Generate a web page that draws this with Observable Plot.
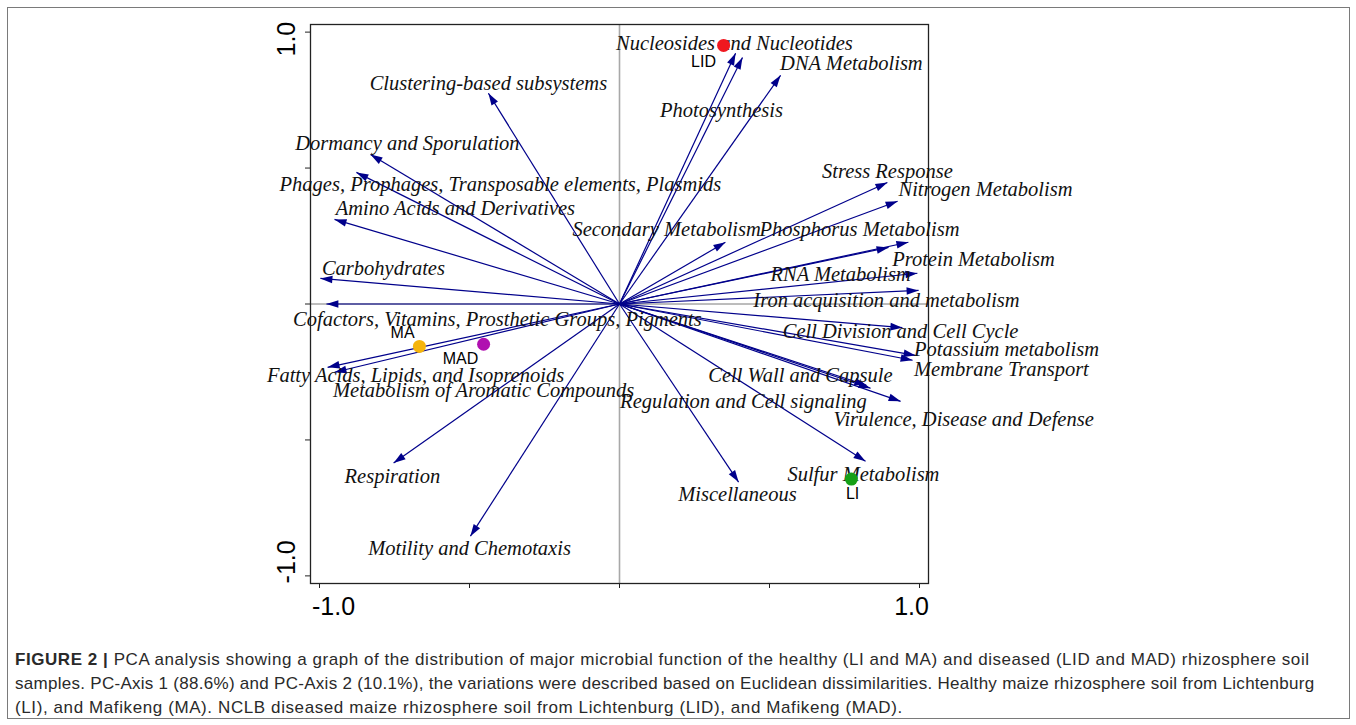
<!DOCTYPE html>
<html><head><meta charset="utf-8">
<script src="https://cdn.jsdelivr.net/npm/d3@7"></script>
<script src="https://cdn.jsdelivr.net/npm/@observablehq/plot@0.6"></script>
<style>
body{margin:0;background:#fff;width:1356px;height:725px;overflow:hidden;position:relative;font-family:"Liberation Sans",Arial,sans-serif}
#border{position:absolute;left:7px;top:7px;width:1341px;height:710px;border:1.5px solid #7a7a7a;}
#chart{position:absolute;left:0;top:0}
#caption{position:absolute;left:15px;top:648px;font-size:17px;line-height:24px;color:#2a2a2a;white-space:nowrap}
#caption span{display:block}
</style></head><body>
<div id="border"></div><div id="chart"></div>
<div id="caption"><span style="letter-spacing:0.55px"><b>FIGURE 2 |</b> PCA analysis showing a graph of the distribution of major microbial function of the healthy (LI and MA) and diseased (LID and MAD) rhizosphere soil</span><span style="letter-spacing:0.28px">samples. PC-Axis 1 (88.6%) and PC-Axis 2 (10.1%), the variations were described based on Euclidean dissimilarities. Healthy maize rhizosphere soil from Lichtenburg</span><span style="letter-spacing:0.6px">(LI), and Mafikeng (MA). NCLB diseased maize rhizosphere soil from Lichtenburg (LID), and Mafikeng (MAD).</span></div>
<script>
// Functional categories (arrows)
const functions = [
  "Nucleosides and Nucleotides", "Photosynthesis", "DNA Metabolism", "Clustering-based subsystems",
  "Dormancy and Sporulation", "Phages, Prophages, Transposable elements, Plasmids", "Amino Acids and Derivatives",
  "Carbohydrates", "Cofactors, Vitamins, Prosthetic Groups, Pigments", "Fatty Acids, Lipids, and Isoprenoids",
  "Metabolism of Aromatic Compounds", "Respiration", "Motility and Chemotaxis", "Miscellaneous",
  "Sulfur Metabolism", "Virulence, Disease and Defense", "Regulation and Cell signaling", "Cell Wall and Capsule",
  "Membrane Transport", "Potassium metabolism", "Cell Division and Cell Cycle", "Iron acquisition and metabolism",
  "Protein Metabolism", "RNA Metabolism", "Phosphorus Metabolism", "Secondary Metabolism",
  "Stress Response", "Nitrogen Metabolism"
];
// Arrow tips (PC-Axis 1, PC-Axis 2)
const pc1 = [0.387, 0.41, 0.537, -0.437, -0.83, -0.877, -0.95, -0.997, -0.977, -0.973, -0.95, -0.753, -0.497, 0.397,
  0.82, 0.937, 0.823, 0.837, 0.977, 0.987, 0.943, 0.997, 0.993, 0.897, 0.963, 0.353, 0.893, 0.927];
const pc2 = [0.922, 0.907, 0.841, 0.775, 0.55, 0.484, 0.311, 0.094, 0.0, -0.233, -0.251, -0.585, -0.854, -0.655,
  -0.578, -0.358, -0.299, -0.31, -0.207, -0.189, -0.087, 0.05, 0.113, 0.208, 0.227, 0.227, 0.447, 0.378];
// Label anchor points (axis units)
const labelX = [0.383, 0.34, 0.773, -0.437, -0.707, -0.397, -0.547, -0.787, -0.407, -0.68, -0.453, -0.757, -0.5, 0.393,
  0.813, 1.147, 0.413, 0.603, 1.273, 1.29, 0.937, 0.89, 1.18, 0.737, 0.8, 0.157, 0.893, 1.22];
const labelY = [0.958, 0.712, 0.885, 0.811, 0.591, 0.44, 0.352, 0.131, -0.056, -0.262, -0.317, -0.633, -0.898, -0.7,
  -0.626, -0.424, -0.358, -0.262, -0.24, -0.166, -0.1, 0.014, 0.164, 0.109, 0.275, 0.275, 0.488, 0.422];

// Samples
const samples = ["LID", "MA", "MAD", "LI"];
const sampleX = [0.347, -0.667, -0.453, 0.773];
const sampleY = [0.951, -0.156, -0.148, -0.644];
const sampleLabelX = [0.28, -0.723, -0.53, 0.777];
const sampleLabelY = [0.892, -0.108, -0.2, -0.7];
const sampleColors = ["#f01820", "#f5b40c", "#b010b0", "#16a016"];

const xTicks = [-1, -0.5, 0, 0.5, 1];
const yTicks = [-1, -0.5, 0, 0.5, 1];

const arrowColor = "#00008B";
const fIdx = d3.range(functions.length);
const sIdx = d3.range(samples.length);

function filledArrow(color, context) {
  const m = d3.create("svg:marker")
    .attr("viewBox", "-12 -4 12 8")
    .attr("markerWidth", 12)
    .attr("markerHeight", 8)
    .attr("markerUnits", "userSpaceOnUse")
    .attr("orient", "auto")
    .attr("refX", 0).attr("refY", 0)
    .attr("overflow", "visible");
  m.append("path").attr("d", "M0,0L-12,-3.8L-12,3.8Z").attr("fill", color).attr("stroke", "none");
  return m.node();
}

const axisFont = {fontSize: 25, fill: "#000", fontFamily: "Liberation Sans", textAnchor: "middle", lineAnchor: "middle"};

function build(marker) {
  return Plot.plot({
    width: 1356, height: 625,
    marginLeft: 310, marginRight: 428, marginTop: 24, marginBottom: 42,
    x: {domain: [-1.03, 1.03]},
    y: {domain: [-1.028, 1.028]},
    style: {background: "transparent", overflow: "visible"},
    marks: [
      Plot.ruleX([0], {stroke: "#a8a8a8", strokeWidth: 1.6}),
      Plot.ruleY([0], {stroke: "#7a7a7a", strokeWidth: 1}),
      Plot.frame({stroke: "#222", strokeWidth: 1.3}),
      Plot.axisX(xTicks, {tickSize: 5, tickFormat: () => "", label: null, stroke: "#222"}),
      Plot.axisY(yTicks, {tickSize: 5, tickFormat: () => "", label: null, stroke: "#222"}),
      Plot.text([-1], {x: d => d, frameAnchor: "bottom", text: d => d.toFixed(1), dx: 14, dy: 23, ...axisFont}),
      Plot.text([1], {x: d => d, frameAnchor: "bottom", text: d => d.toFixed(1), dx: -8, dy: 23, ...axisFont}),
      Plot.text([1], {y: d => d, frameAnchor: "left", text: d => d.toFixed(1), rotate: -90, dx: -24, dy: 7, ...axisFont}),
      Plot.text([-1], {y: d => d, frameAnchor: "left", text: d => d.toFixed(1), rotate: -90, dx: -24, dy: -14, ...axisFont}),
      Plot.link(fIdx, {x1: () => 0, y1: () => 0, x2: i => pc1[i], y2: i => pc2[i], stroke: arrowColor, strokeWidth: 1.2, markerEnd: marker}),
      Plot.text(fIdx, {x: i => labelX[i], y: i => labelY[i], text: i => functions[i], fontFamily: "Liberation Serif", fontStyle: "italic", fontSize: 20.5, fill: "#111"}),
      Plot.dot(sIdx, {x: i => sampleX[i], y: i => sampleY[i], r: 6.5, fill: i => sampleColors[i]}),
      Plot.text(sIdx, {x: i => sampleLabelX[i], y: i => sampleLabelY[i], text: i => samples[i], fontSize: 16, fill: "#000", fontFamily: "Liberation Sans"})
    ]
  });
}

let chart;
try { chart = build(filledArrow); } catch (e) { chart = build("arrow"); }
document.getElementById("chart").append(chart);
</script>
</body></html>
